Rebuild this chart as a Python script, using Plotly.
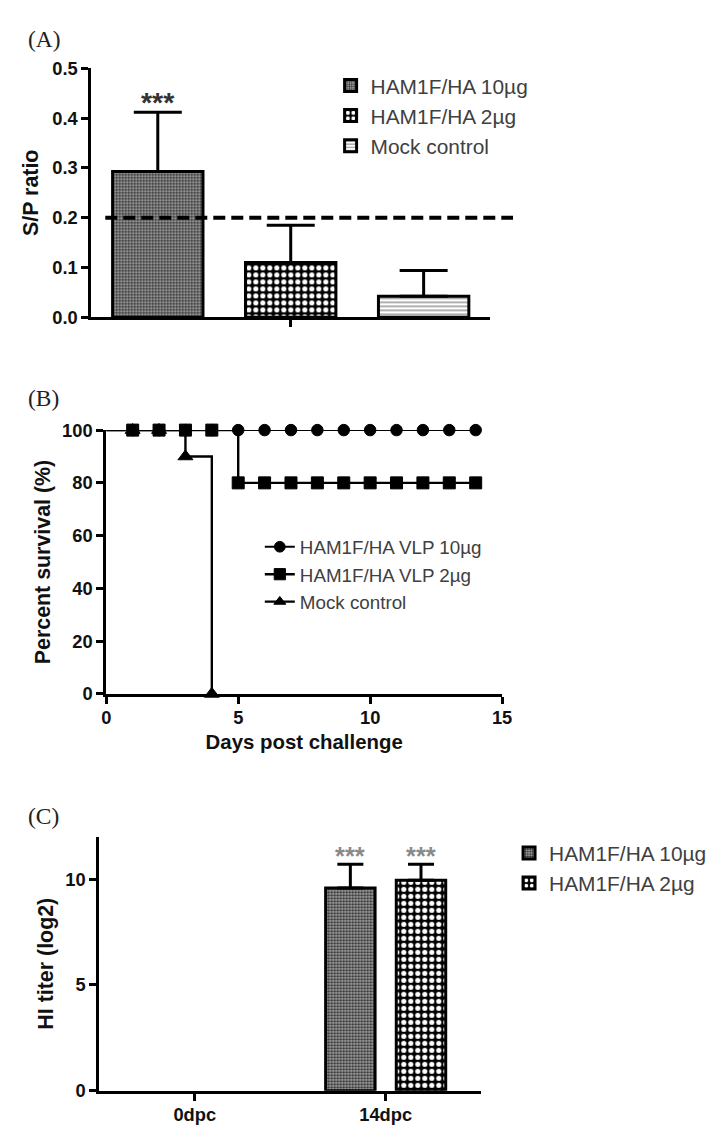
import plotly.graph_objects as go

# ---------------- Panel A data ----------------
groups_a = ["HAM1F/HA 10µg", "HAM1F/HA 2µg", "Mock control"]
sp_ratio = [0.293, 0.110, 0.042]
sp_err = [0.119, 0.075, 0.052]
stars_a = ["***", "", ""]
cutoff = 0.2

# ---------------- Panel B data ----------------
days_b = [0, 1, 2, 3, 4, 5, 6, 7, 8, 9, 10, 11, 12, 13, 14]
surv_10ug = [100, 100, 100, 100, 100, 100, 100, 100, 100, 100, 100, 100, 100, 100, 100]
surv_2ug = [100, 100, 100, 100, 100, 80, 80, 80, 80, 80, 80, 80, 80, 80, 80]
days_mock = [0, 1, 2, 3, 4]
surv_mock = [100, 100, 100, 90, 0]
names_b = ["HAM1F/HA VLP 10µg", "HAM1F/HA VLP 2µg", "Mock control"]

# ---------------- Panel C data ----------------
timepoints = ["0dpc", "14dpc"]
hi_10ug = [0, 9.58]
hi_10ug_err = [0, 1.12]
hi_2ug = [0, 9.95]
hi_2ug_err = [0, 0.75]
stars_c = ["", "***"]
names_c = ["HAM1F/HA 10µg", "HAM1F/HA 2µg"]

W, H = 728, 1147
SANS = "Liberation Sans"
SERIF = "Liberation Serif"
K = 1 / 0.9824  # layout scale


def cx(p):
    return 364 + (p - 364) * K


def cy(p):
    return 545 + (p - 545) * K


def px_x(p):
    return cx(p) / W


def px_y(p):
    return 1 - cy(p) / H


def fs(s):
    return round(s * K, 1)


pat_10 = dict(shape=".", size=3, solidity=0.5, fgcolor="#2a2a2a", bgcolor="#b8b8b8", fillmode="replace")
pat_2 = dict(shape=".", size=7, solidity=0.42, fgcolor="#ffffff", bgcolor="#000000", fillmode="replace")
pat_mock = dict(shape="-", size=4, solidity=0.3, fgcolor="#7a7a7a", bgcolor="#ffffff", fillmode="replace")
patterns_a = [pat_10, pat_2, pat_mock]

fig = go.Figure()

# Panel A bars
bar_w_a = 0.68
for i, (g, v, e) in enumerate(zip(groups_a, sp_ratio, sp_err)):
    fig.add_trace(go.Bar(
        x=[i], y=[v], name=g, width=bar_w_a, offset=-bar_w_a / 2,
        marker=dict(color="#ffffff", pattern=patterns_a[i], line=dict(color="#000", width=3)),
        error_y=dict(type="data", symmetric=False, array=[e], arrayminus=[0],
                     color="#000", thickness=3, width=24),
        xaxis="x", yaxis="y", legend="legend", showlegend=True,
    ))

# Panel B survival curves
mline = dict(color="#000", width=1)
fig.add_trace(go.Scatter(
    x=days_mock, y=surv_mock, name=names_b[2], mode="lines+markers",
    line=dict(color="#000", width=2.4, shape="hv"),
    marker=dict(symbol="triangle-up", size=[0] + [13] * (len(days_mock) - 1), color="#000",
                line=mline, opacity=1),
    xaxis="x2", yaxis="y2", legend="legend2", legendrank=3, cliponaxis=False,
))
fig.add_trace(go.Scatter(
    x=days_b, y=surv_10ug, name=names_b[0], mode="lines+markers",
    line=dict(color="#000", width=2, shape="hv"),
    marker=dict(symbol="circle", size=[0] + [11.5] * (len(days_b) - 1), color="#000",
                line=mline, opacity=1),
    xaxis="x2", yaxis="y2", legend="legend2", legendrank=1, cliponaxis=False,
))
fig.add_trace(go.Scatter(
    x=days_b, y=surv_2ug, name=names_b[1], mode="lines+markers",
    line=dict(color="#000", width=2.4, shape="hv"),
    marker=dict(symbol="square", size=[0] + [12] * (len(days_b) - 1), color="#000",
                line=mline, opacity=1),
    xaxis="x2", yaxis="y2", legend="legend2", legendrank=2, cliponaxis=False,
))

# Panel C grouped bars (zero-height bars are not drawn; the category stays on the axis)
bargap_c = 0.26
bargroupgap_c = 0.3
for vals, errs, nm, pat in [(hi_10ug, hi_10ug_err, names_c[0], pat_10),
                            (hi_2ug, hi_2ug_err, names_c[1], pat_2)]:
    keep = [j for j, v in enumerate(vals) if v > 0]
    fig.add_trace(go.Bar(
        x=[timepoints[j] for j in keep], y=[vals[j] for j in keep], name=nm,
        marker=dict(color="#ffffff", pattern=pat, line=dict(color="#000", width=3)),
        error_y=dict(type="data", symmetric=False, array=[errs[j] for j in keep],
                     arrayminus=[0] * len(keep), color="#000", thickness=3, width=13),
        xaxis="x3", yaxis="y3", legend="legend3",
    ))

# cutoff line (panel A)
fig.add_shape(type="line", xref="paper", yref="y", x0=px_x(107), x1=px_x(516),
              y0=cutoff, y1=cutoff, line=dict(color="#000", width=4, dash="12px,6px"))

annotations = []
# stars A
for i, s in enumerate(stars_a):
    if s:
        annotations.append(dict(x=i, y=sp_ratio[i] + sp_err[i], xref="x", yref="y", text=s,
                                showarrow=False, yanchor="middle", yshift=10,
                                font=dict(family=SANS, size=fs(28), color="#333333", weight="bold")))
# stars C
slot = (1 - bargap_c) / 2
for i, s in enumerate(stars_c):
    if s:
        for k, (vals, errs) in enumerate([(hi_10ug, hi_10ug_err), (hi_2ug, hi_2ug_err)]):
            annotations.append(dict(x=i + (k - 0.5) * slot, y=vals[i] + errs[i], xref="x3", yref="y3",
                                    text=s, showarrow=False, yanchor="middle", yshift=8,
                                    font=dict(family=SANS, size=fs(25), color="#8a8a8a", weight="bold")))
# panel labels
for lab, ypx in [("(A)", 38), ("(B)", 397), ("(C)", 815)]:
    annotations.append(dict(x=px_x(27), y=px_y(ypx), xref="paper", yref="paper", text=lab,
                            showarrow=False, xanchor="left", yanchor="middle",
                            font=dict(family=SERIF, size=fs(23), color="#222")))

axis_common = dict(showline=True, linecolor="#000", linewidth=3, ticks="outside", ticklen=7,
                   tickwidth=3, tickcolor="#000", showgrid=False, zeroline=False,
                   tickfont=dict(family=SANS, size=fs(18), color="#111", weight="bold"))
title_font = dict(family=SANS, size=fs(20), color="#111", weight="bold")
title_font_v = dict(family=SANS, size=fs(21), color="#111", weight="bold")
legend_font = dict(family=SANS, size=fs(20.5), color="#404040")

fig.update_layout(
    width=W, height=H, margin=dict(l=0, r=0, t=0, b=0),
    paper_bgcolor="#fff", plot_bgcolor="#fff",
    barmode="group", bargap=bargap_c, bargroupgap=bargroupgap_c,
    annotations=annotations,
    xaxis=dict(axis_common, domain=[px_x(93), px_x(493)], range=[-0.5, 2.5],
               tickvals=[1], ticktext=[""], anchor="y"),
    yaxis=dict(axis_common, domain=[px_y(316), px_y(67)], range=[0, 0.5], dtick=0.1,
               tickformat=".1f", anchor="x",
               title=dict(text="S/P ratio", font=title_font_v, standoff=8)),
    xaxis2=dict(axis_common, domain=[px_x(108), px_x(505)], range=[0, 15], dtick=5, anchor="y2",
                ticklabelstandoff=-2,
                title=dict(text="Days post challenge", font=title_font, standoff=8)),
    yaxis2=dict(axis_common, domain=[px_y(693), px_y(429)], range=[0, 100], dtick=20, anchor="x2",
                title=dict(text="Percent survival (%)", font=title_font_v, standoff=6)),
    xaxis3=dict(axis_common, domain=[px_x(101), px_x(484)], range=[-0.5, 1.5], anchor="y3",
                type="category", categoryorder="array", categoryarray=timepoints,
                tickvals=timepoints, ticklabelstandoff=-2),
    yaxis3=dict(axis_common, domain=[px_y(1090), px_y(836)], range=[0, 12], tickvals=[0, 5, 10],
                anchor="x3",
                title=dict(text="HI titer (log2)", font=title_font_v, standoff=6)),
    legend=dict(x=px_x(333), y=px_y(64), xanchor="left", yanchor="top", font=legend_font,
                bgcolor="rgba(0,0,0,0)", itemwidth=30, tracegroupgap=0, traceorder="normal"),
    legend2=dict(x=px_x(262), y=px_y(527), xanchor="left", yanchor="top",
                 font=dict(legend_font, size=fs(18.5)),
                 bgcolor="rgba(0,0,0,0)", itemwidth=30, tracegroupgap=0),
    legend3=dict(x=px_x(512), y=px_y(832), xanchor="left", yanchor="top", font=legend_font,
                 bgcolor="rgba(0,0,0,0)", itemwidth=30, tracegroupgap=0, traceorder="normal"),
)

fig.write_html("out.html", config={"displayModeBar": False},
               post_script="document.body.style.margin='0px';")
